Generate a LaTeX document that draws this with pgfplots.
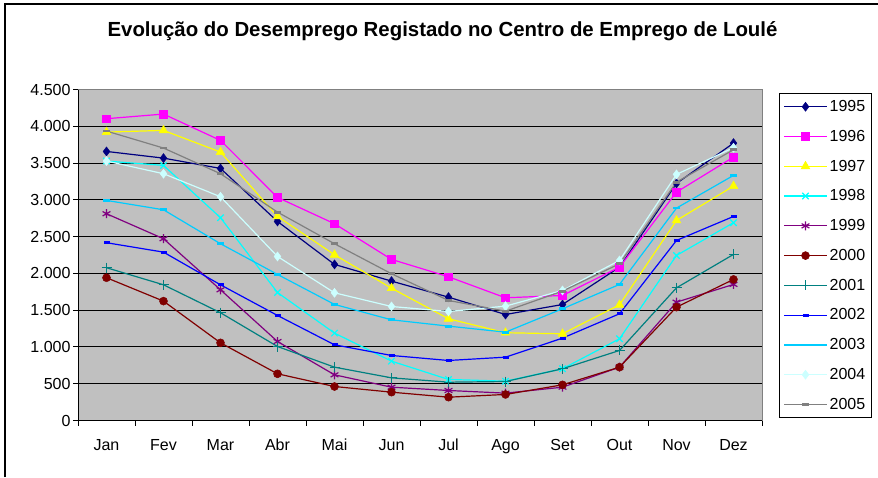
\documentclass[border=0pt]{standalone}
\usepackage{fontspec}
\setmainfont{Liberation Sans}
\usepackage{pgfplots}
\usepackage{pgfplotstable}
\pgfplotsset{compat=1.18}
\definecolor{c95}{HTML}{000080}
\definecolor{c96}{HTML}{FF00FF}
\definecolor{c97}{HTML}{FFFF00}
\definecolor{c98}{HTML}{00FFFF}
\definecolor{c99}{HTML}{800080}
\definecolor{c00}{HTML}{800000}
\definecolor{c01}{HTML}{008080}
\definecolor{c02}{HTML}{0000FF}
\definecolor{c03}{HTML}{00CCFF}
\definecolor{c04}{HTML}{CCFFFF}
\definecolor{c05}{HTML}{808080}
\definecolor{plotbg}{HTML}{C0C0C0}
\pgfplotstableread{
m y95 y96 y97 y98 y99 y00 y01 y02 y03 y04 y05
0 3658 4103 3921 3527 2811 1941 2077 2417 2992 3527 3935
1 3567 4166 3944 3468 2471 1623 1845 2289 2865 3355 3704
2 3427 3808 3649 2757 1777 1056 1465 1845 2403 3042 3355
3 2706 3033 2774 1740 1074 635 1006 1428 1986 2230 2833
4 2122 2675 2253 1188 621 462 725 1029 1578 1736 2403
5 1895 2190 1799 807 453 385 580 884 1369 1550 1995
6 1677 1954 1383 558 408 317 521 816 1283 1482 1632
7 1441 1668 1193 535 372 354 530 861 1201 1555 1486
8 1577 1700 1179 703 453 485 703 1120 1519 1768 1759
9 2085 2085 1573 1111 725 725 952 1451 1850 2176 2131
10 3223 3105 2720 2244 1609 1541 1804 2448 2888 3346 3241
11 3771 3581 3187 2689 1850 1918 2258 2774 3332 3709 3681
}\data
\begin{document}
\begin{tikzpicture}[x=1pt,y=1pt]
\path[use as bounding box] (0,0) rectangle (878,477);
\draw[line width=1.2pt] (5,0) -- (5,473) -- (878,473);
\node[anchor=base, font=\bfseries\fontsize{20.4}{22}\selectfont] at (442.5,440.3) {Evolução do Desemprego Registado no Centro de Emprego de Loulé};
\begin{axis}[
  at={(78pt,56.5pt)}, anchor=south west,
  scale only axis, width=684pt, height=331pt,
  xmin=-0.5, xmax=11.5, ymin=0, ymax=4500,
  ytick={0,500,...,4500},
  xtick={0,...,11},
  xticklabels={Jan,Fev,Mar,Abr,Mai,Jun,Jul,Ago,Set,Out,Nov,Dez},
  minor xtick={-0.5,0.5,...,11.5},
  xtick pos=bottom, ytick pos=left,
  tick align=outside,
  major tick length=5pt, minor tick length=5pt,
  tick style={black, line width=0.9pt},
  major x tick style={draw=none},
  axis background/.style={fill=plotbg},
  axis line style={draw=gray, line width=0.9pt},
  ymajorgrids,
  major grid style={black, line width=0.9pt},
  scaled y ticks=false,
  /pgf/number format/assume math mode=true,
  /pgf/number format/1000 sep={.},
  ticklabel style={font=\fontsize{16}{18}\selectfont},
  yticklabel style={xshift=1pt},
  xticklabel style={yshift=-10pt},
  legend style={at={(1,1)}, anchor=north west, xshift=17pt, yshift=-3.5pt,
    draw=black, fill=white, line width=0.8pt,
    font=\fontsize{16}{18}\selectfont, row sep=13.1pt,
    inner xsep=4pt, inner ysep=5pt},
  legend cell align=left,
  legend image code/.code={\draw[mark repeat=2,mark phase=2] plot coordinates {(0pt,0pt) (21.5pt,0pt) (43pt,0pt)};},
  every axis plot/.append style={line width=1.2pt},
]
\addplot[c95, mark=diamond*, mark size=4.5pt, mark options={solid, fill=c95, line width=0.5pt}] table[x=m,y=y95] {\data};
\addlegendentry{1995}
\addplot[c96, mark=square*, mark size=3.8pt, mark options={solid, fill=c96, line width=0.5pt}] table[x=m,y=y96] {\data};
\addlegendentry{1996}
\addplot[c97, mark=triangle*, mark size=5pt, mark options={solid, fill=c97, line width=0.5pt}] table[x=m,y=y97] {\data};
\addlegendentry{1997}
\addplot[c98, mark=x, mark size=4.5pt, mark options={solid, line width=1.2pt}] table[x=m,y=y98] {\data};
\addlegendentry{1998}
\addplot[c99, mark=asterisk, mark size=4.5pt, mark options={solid, line width=1.2pt}] table[x=m,y=y99] {\data};
\addlegendentry{1999}
\addplot[c00, mark=*, mark size=4pt, mark options={solid, fill=c00, line width=0.5pt}] table[x=m,y=y00] {\data};
\addlegendentry{2000}
\addplot[c01, mark=+, mark size=5pt, mark options={solid, line width=1.2pt}] table[x=m,y=y01] {\data};
\addlegendentry{2001}
\addplot[c02, mark=-, mark size=3pt, mark options={solid, line width=2.8pt}] table[x=m,y=y02] {\data};
\addlegendentry{2002}
\addplot[c03, mark=-, mark size=3.5pt, mark options={solid, line width=2.8pt}] table[x=m,y=y03] {\data};
\addlegendentry{2003}
\addplot[c04, mark=diamond*, mark size=4.5pt, mark options={solid, fill=c04, line width=0.5pt}] table[x=m,y=y04] {\data};
\addlegendentry{2004}
\addplot[c05, mark=-, mark size=3.5pt, mark options={solid, line width=2.8pt}] table[x=m,y=y05] {\data};
\addlegendentry{2005}
\draw[black, line width=0.9pt] (rel axis cs:0,1) -- (rel axis cs:0,0) -- (rel axis cs:1,0);
\end{axis}
\end{tikzpicture}
\end{document}
